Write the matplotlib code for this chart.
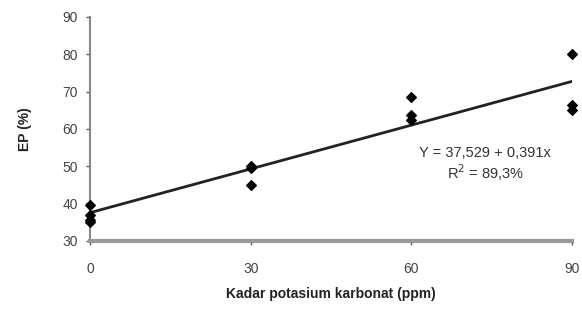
import numpy as np
import matplotlib.pyplot as plt

# Data
x_kadar = [0, 0, 0, 0, 30, 30, 30, 60, 60, 60, 90, 90, 90]
ep = [39.5, 37.0, 35.5, 35.0, 50.0, 49.5, 45.0, 68.5, 63.7, 62.4, 80.0, 66.5, 65.0]
intercept = 37.529
slope = 0.391
x_ticks = [0, 30, 60, 90]
y_ticks = [30, 40, 50, 60, 70, 80, 90]

plt.rcParams['font.family'] = ['Liberation Sans', 'DejaVu Sans']

fig = plt.figure(figsize=(5.82, 3.10), dpi=100)
ax = fig.add_axes([0.155, 0.2235, 0.828, 0.722])

# regression line
xl = np.array([0, 90])
ax.plot(xl, intercept + slope * xl, color='#222222', lw=2, zorder=2)

# observations
ax.scatter(x_kadar, ep, marker='D', s=24, color='black', zorder=3, clip_on=False)

ax.set_xlim(0, 90)
ax.set_ylim(30, 90)
ax.set_xticks(x_ticks)
ax.set_yticks(y_ticks)

for side in ['top', 'right']:
    ax.spines[side].set_visible(False)
ax.spines['left'].set_color('#888888')
ax.spines['left'].set_linewidth(1.5)
ax.spines['bottom'].set_color('#999999')
ax.spines['bottom'].set_linewidth(3)

ax.tick_params(axis='both', colors='#555555', labelcolor='#444444',
               labelsize=10, length=3, width=1)
ax.tick_params(axis='x', pad=12)
ax.tick_params(axis='y', pad=6)

ax.set_xlabel('Kadar potasium karbonat (ppm)', fontsize=10, fontweight='bold',
              color='#222222', labelpad=8)
ax.set_ylabel('EP (%)', fontsize=10, fontweight='bold', color='#222222', labelpad=22)

ax.text(0.82, 0.34, 'Y = 37,529 + 0,391x\nR$^2$ = 89,3%', transform=ax.transAxes,
        ha='center', va='center', fontsize=10.5, color='#333333', linespacing=1.15)

fig.savefig('out.png', dpi=100)
